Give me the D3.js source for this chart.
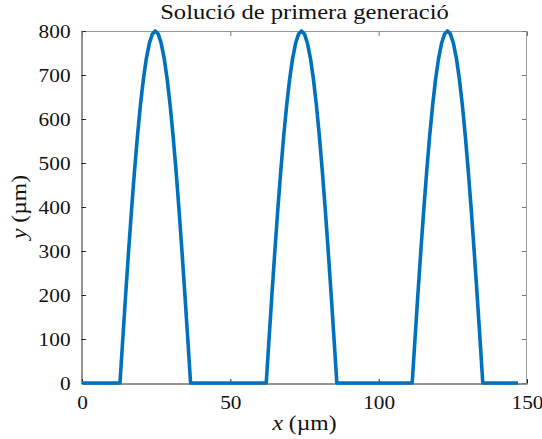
<!DOCTYPE html>
<html><head><meta charset="utf-8">
<script src="https://cdn.jsdelivr.net/npm/d3@7"></script>
<style>body{margin:0;background:#fff}svg{display:block}text{font-family:'Liberation Serif','Times New Roman',serif}</style>
</head><body>
<script>
const titleText = "Solució de primera generació";
const xTicks = [0, 50, 100, 150];
const yTicks = [0, 100, 200, 300, 400, 500, 600, 700, 800];
const xValues = [0,
  12.8, 13.7, 14.7, 15.7, 16.7, 17.7, 18.7, 19.7, 20.7, 21.7, 22.7, 23.7, 24.7, 25.7, 26.7, 27.7, 28.7, 29.7, 30.7, 31.7, 32.7, 33.7, 34.7, 35.7, 36.6,
  62.1, 63, 64, 65, 66, 67, 68, 69, 70, 71, 72, 73, 74, 75, 76, 77, 78, 79, 80, 81, 82, 83, 84, 85, 85.9,
  111.3, 112.2, 113.2, 114.2, 115.2, 116.2, 117.2, 118.2, 119.2, 120.2, 121.2, 122.2, 123.2, 124.2, 125.2, 126.2, 127.2, 128.2, 129.2, 130.2, 131.2, 132.2, 133.2, 134.2, 135.1,
  147];
const yValues = [0,
  0, 95, 199, 299, 394, 482, 562, 632, 691, 738, 772, 793, 800, 793, 772, 738, 691, 632, 562, 482, 394, 299, 199, 95, 0,
  0, 95, 199, 299, 394, 482, 562, 632, 691, 738, 772, 793, 800, 793, 772, 738, 691, 632, 562, 482, 394, 299, 199, 95, 0,
  0, 95, 199, 299, 394, 482, 562, 632, 691, 738, 772, 793, 800, 793, 772, 738, 691, 632, 562, 482, 394, 299, 199, 95, 0,
  0];

const W = 542, H = 439;
const L = 82, R = 527, T = 31, B = 383;
const font = "'Liberation Serif', 'Times New Roman', serif";

const svg = d3.select("body").append("svg").attr("width", W).attr("height", H);
const x = d3.scaleLinear().domain([0, 150]).range([L, R]);
const y = d3.scaleLinear().domain([0, 800]).range([B, T]);

function stretch(sel, k) {
  sel.each(function() {
    const w = this.getComputedTextLength();
    d3.select(this).attr("textLength", w * k).attr("lengthAdjust", "spacingAndGlyphs");
  });
}

// box lines
svg.append("line").attr("x1", L).attr("x2", R).attr("y1", T + 0.5).attr("y2", T + 0.5).attr("stroke", "#9a9a9a");
svg.append("line").attr("x1", R - 0.5).attr("x2", R - 0.5).attr("y1", T).attr("y2", B).attr("stroke", "#9a9a9a");

// axes
const xAxisB = d3.axisBottom(x).tickValues(xTicks).tickSizeInner(-4.5).tickSizeOuter(0).tickPadding(11);
const gx = svg.append("g").attr("transform", `translate(0,${B + 0.5})`).call(xAxisB);
const yAxisL = d3.axisLeft(y).tickValues(yTicks).tickSizeInner(-4.5).tickSizeOuter(0).tickPadding(11);
const gy = svg.append("g").attr("transform", `translate(${L - 0.5},0)`).call(yAxisL);
[gx, gy].forEach(g => {
  g.attr("font-family", null).attr("font-size", null);
  g.select(".domain").attr("stroke", "#262626");
  g.selectAll(".tick line").attr("stroke", "#262626");
  g.selectAll(".tick text").style("font-family", font).style("font-size", "19px").attr("fill", "#111");
});
gx.selectAll(".tick text").attr("dy", "0.75em");
stretch(gx.selectAll(".tick text"), 1.12);
stretch(gy.selectAll(".tick text"), 1.12);

// top & right ticks
const gt = svg.append("g").attr("transform", `translate(0,${T + 0.5})`)
  .call(d3.axisTop(x).tickValues(xTicks).tickSizeInner(-4.5).tickSizeOuter(0).tickFormat(""));
const gr = svg.append("g").attr("transform", `translate(${R - 0.5},0)`)
  .call(d3.axisRight(y).tickValues(yTicks).tickSizeInner(-4.5).tickSizeOuter(0).tickFormat(""));
[gt, gr].forEach(g => {
  g.select(".domain").remove();
  g.selectAll(".tick line").attr("stroke", "#777");
});

// line
const line = d3.line().x((d, i) => x(xValues[i])).y((d, i) => y(yValues[i]));
svg.append("path").datum(xValues).attr("d", line)
  .attr("fill", "none").attr("stroke", "#0072BD").attr("stroke-width", 3.6)
  .attr("stroke-linejoin", "round");

// title
const title = svg.append("text").attr("x", (L + R) / 2).attr("y", 19).attr("text-anchor", "middle")
  .style("font-family", font).style("font-size", "21px").attr("fill", "#111").text(titleText);
stretch(title, 1.17);

// x label
const xl = svg.append("text").attr("x", (L + R) / 2).attr("y", 430).attr("text-anchor", "middle")
  .style("font-family", font).style("font-size", "20px").attr("fill", "#111");
xl.append("tspan").attr("font-style", "italic").text("x");
xl.append("tspan").text(" (µm)");
stretch(xl, 1.18);

// y label
const yl = svg.append("text").attr("transform", `translate(26,${(T + B) / 2}) rotate(-90)`).attr("text-anchor", "middle")
  .style("font-family", font).style("font-size", "20px").attr("fill", "#111");
yl.append("tspan").attr("font-style", "italic").text("y");
yl.append("tspan").text(" (µm)");
stretch(yl, 1.18);
</script>
</body></html>
